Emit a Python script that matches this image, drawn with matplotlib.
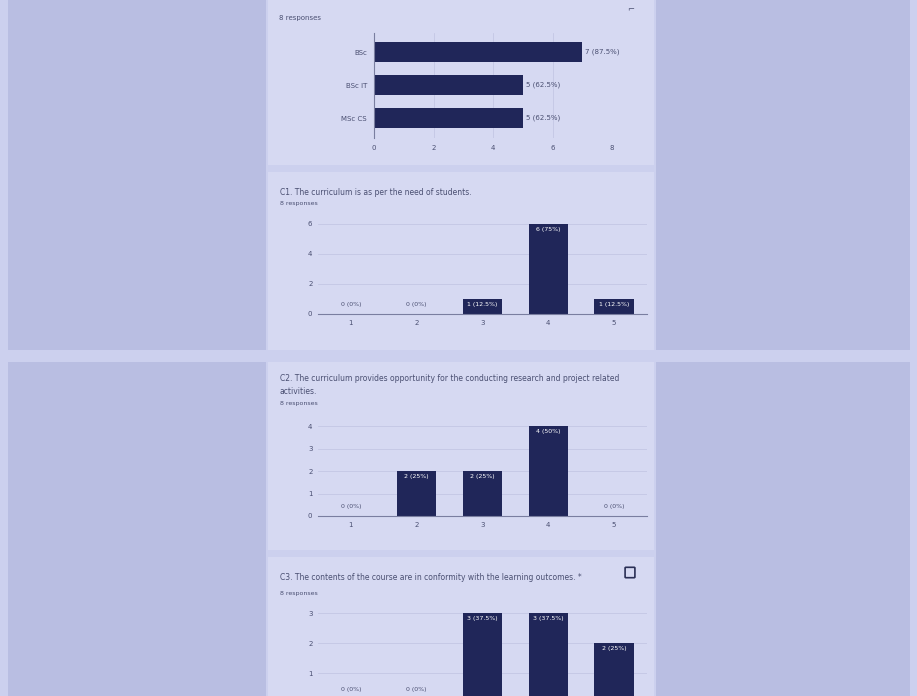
import numpy as np
import matplotlib.pyplot as plt
import matplotlib.patches as mpatches

# data
total = 8
deg_labels = ['BSc', 'BSc IT', 'MSc CS']
deg_counts = [7, 5, 5]

scale = ['1', '2', '3', '4', '5']
c1_counts = [0, 0, 1, 6, 1]
c2_counts = [0, 2, 2, 4, 0]
c3_counts = [0, 0, 3, 3, 2]

c1_title = 'C1. The curriculum is as per the need of students.'
c2_title = ('C2. The curriculum provides opportunity for the conducting research and project related\n'
            'activities.')
c3_title = 'C3. The contents of the course are in conformity with the learning outcomes. *'

W, H = 917, 696
bar_col = '#202659'
txt_col = '#4a4f72'
grid_col = '#c4c7e4'
card_col = '#d6d9f2'
side_col = '#b9bee2'

fig = plt.figure(figsize=(W / 100, H / 100), dpi=100)
fig.patch.set_facecolor('#ccd0ee')


def box(x0, y0, x1, y1):
    # pixel box (top-left origin) -> figure coords
    return [x0 / W, 1 - y1 / H, (x1 - x0) / W, (y1 - y0) / H]


def rect(x0, y0, x1, y1, col):
    b = box(x0, y0, x1, y1)
    fig.patches.append(mpatches.Rectangle((b[0], b[1]), b[2], b[3], transform=fig.transFigure,
                                          facecolor=col, edgecolor='none', zorder=-5))


def ftext(x, y, s, **kw):
    fig.text(x / W, 1 - y / H, s, **kw)


def label(c):
    p = 100 * c / total
    return f'{c} ({p:g}%)'


# page background: side panels and cards
rect(8, 0, 266, 350, side_col)
rect(8, 362, 266, 696, side_col)
rect(656, 0, 910, 350, side_col)
rect(656, 362, 910, 696, side_col)
rect(268, 0, 654, 165, card_col)
rect(268, 172, 654, 350, card_col)
rect(268, 362, 654, 550, card_col)
rect(268, 557, 654, 696, card_col)

# top chart: horizontal bars
ftext(279, 18, '8 responses', fontsize=5, color=txt_col, va='center')
ftext(627, 10, '⌐', fontsize=6, color=txt_col, va='center')
ax = fig.add_axes(box(374, 33, 612, 138))
ax.set_facecolor('none')
ypos = np.arange(len(deg_labels))
ax.barh(ypos, deg_counts, height=0.6, color=bar_col)
for y, c in zip(ypos, deg_counts):
    ax.text(c + 0.1, y, label(c), fontsize=5, color=txt_col, va='center')
ax.set_ylim(2.6, -0.58)
ax.set_xlim(0, 8)
ax.set_yticks(ypos)
ax.set_yticklabels(deg_labels)
ax.set_xticks([0, 2, 4, 6, 8])
ax.grid(axis='x', color=grid_col, lw=0.6)
ax.set_axisbelow(True)
for s in ['top', 'right', 'bottom']:
    ax.spines[s].set_visible(False)
ax.spines['left'].set_color('#7a7ea0')
ax.tick_params(length=0, labelsize=5, colors=txt_col, pad=5)


def col_chart(title, title_y, resp_y, counts, px_top, px_zero, ymax, yticks, zero_off):
    ftext(280, title_y, title, fontsize=5.5, color=txt_col, va='top', linespacing=1.6)
    ftext(280, resp_y, '8 responses', fontsize=4.5, color=txt_col, va='center')
    a = fig.add_axes(box(318, px_top, 647, px_zero))
    a.set_facecolor('none')
    x = np.arange(1, 6)
    a.bar(x, counts, width=0.6, color=bar_col)
    for xi, c in zip(x, counts):
        if c > 0:
            a.annotate(label(c), (xi, c), xytext=(0, -2), textcoords='offset points',
                       fontsize=4.5, color='white', ha='center', va='top')
        else:
            a.annotate(label(c), (xi, 0), xytext=(0, zero_off), textcoords='offset points',
                       fontsize=4.5, color=txt_col, ha='center', va='center')
    a.set_xlim(0.5, 5.5)
    a.set_ylim(0, ymax)
    a.set_xticks(x)
    a.set_xticklabels(scale)
    a.set_yticks(yticks)
    a.grid(axis='y', color=grid_col, lw=0.6)
    a.set_axisbelow(True)
    for s in ['top', 'right', 'left']:
        a.spines[s].set_visible(False)
    a.spines['bottom'].set_color('#7a7ea0')
    a.tick_params(length=0, labelsize=5, colors=txt_col, pad=4)
    return a


col_chart(c1_title, 188, 203, c1_counts, 224, 314, 6, [0, 2, 4, 6], 6.5)
col_chart(c2_title, 374, 404, c2_counts, 426, 516, 4, [0, 1, 2, 3, 4], 6.5)
a3 = col_chart(c3_title, 573, 593, c3_counts, 613, 703, 3, [1, 2, 3], 10)
# the page photo is cut off below the last chart
a3.set_xticklabels([])

# copy icon on the last card
ib = box(626, 568, 634, 577)
fig.patches.append(mpatches.FancyBboxPatch((ib[0], ib[1]), ib[2], ib[3], boxstyle='round,pad=0.001',
                                           transform=fig.transFigure, facecolor='none',
                                           edgecolor='#2a2f55', lw=1.2, zorder=3))

fig.savefig('out.png', dpi=100, facecolor=fig.get_facecolor())
